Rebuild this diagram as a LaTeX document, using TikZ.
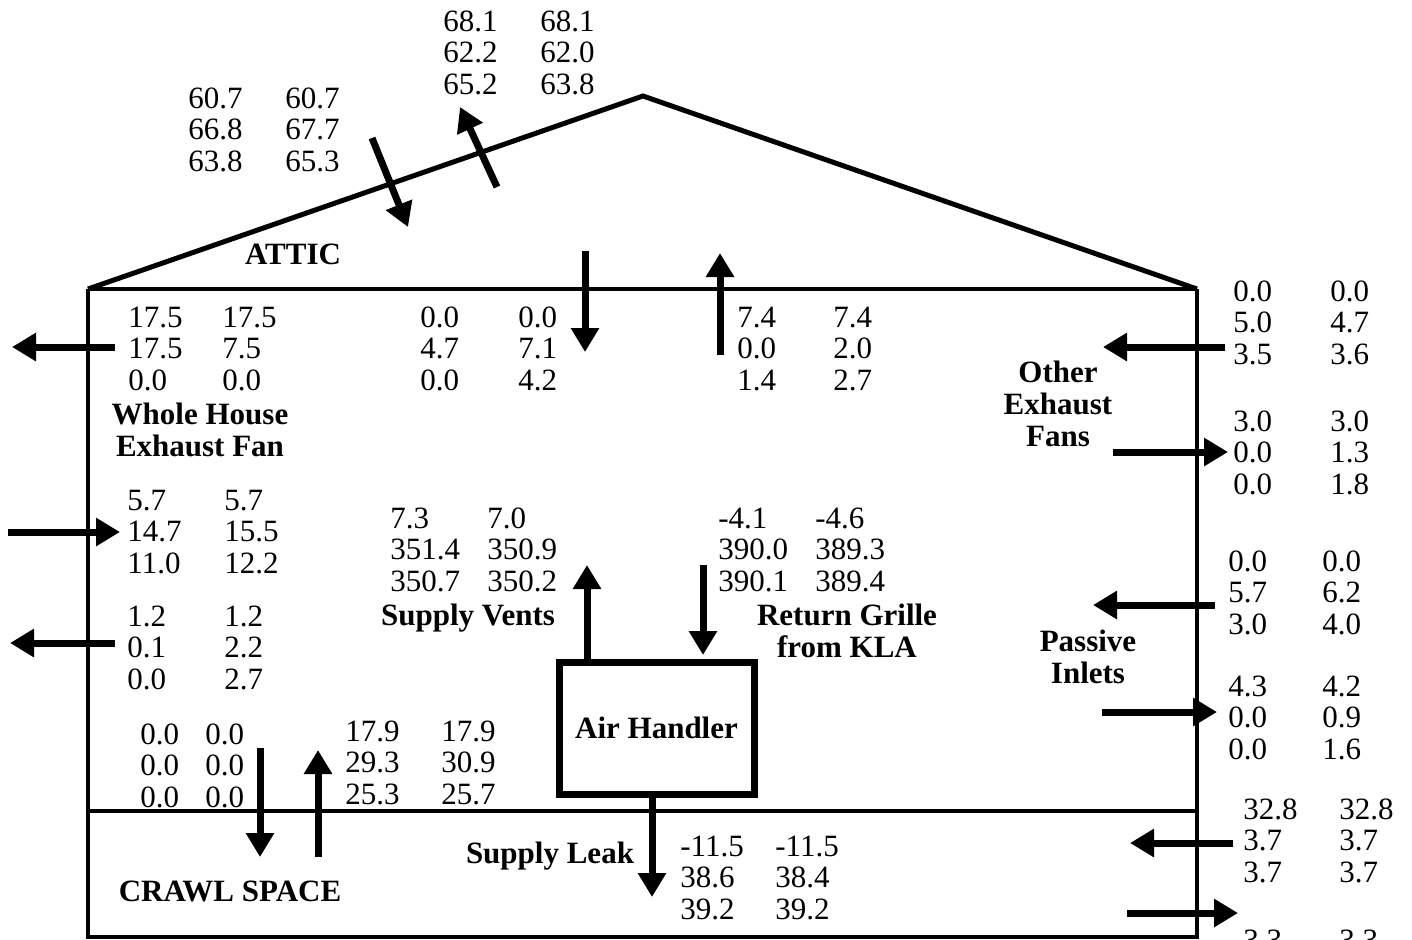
\documentclass[tikz,border=0pt]{standalone}
\usepackage{fontspec}
\setmainfont{Liberation Serif}
\usetikzlibrary{arrows.meta}
\newcommand\ncol[4]{\foreach \v [count=\i] in {#4}{\node[num] (#1\i) at (#2,{#3+(\i-1)*31.5}) {\v};}}
\begin{document}
\begin{tikzpicture}[x=0.5pt,y=-0.5pt,
  num/.style={inner sep=0pt,anchor=base west,font=\fontsize{15.5}{15.75}\selectfont},
  lbl/.style={inner sep=0pt,anchor=base,font=\fontsize{15.5}{15.75}\selectfont\bfseries},
  wall/.style={line width=2pt},
  roof/.style={line width=2.5pt,line join=miter},
  floorline/.style={line width=1.6pt},
  flow/.style={line width=3.5pt,-{Triangle[length=12pt,width=13.5pt]}},
  boxst/.style={draw,line width=3.5pt,minimum width=97.5pt,minimum height=66pt,inner sep=0pt,font=\fontsize{15.5}{15.75}\selectfont\bfseries}]
\clip (0,0) rectangle (1412,939);
\fill[white] (0,0) rectangle (1412,939);
% house outline
\coordinate (LT) at (88,289);
\coordinate (RT) at (1197,289);
\coordinate (AP) at (643,96);
\coordinate (LB) at (88,937);
\coordinate (RB) at (1197,937);
\coordinate (CL) at (88,811);
\coordinate (CR) at (1197,811);
\draw[roof] (LT) -- (AP) -- (RT);
\draw[floorline] (LT) -- (RT);
\draw[floorline] (CL) -- (CR);
\draw[wall] (LT) -- (LB) -- (RB) -- (RT);
% air handler
\node[boxst] (ah) at (656.5,728) {Air Handler};
% arrow end points
\coordinate (a1t) at (115,347);  \coordinate (a1h) at (12,347);
\coordinate (a2t) at (8,532);    \coordinate (a2h) at (120,532);
\coordinate (a3t) at (115,643);  \coordinate (a3h) at (10,643);
\coordinate (a4t) at (585,251);  \coordinate (a4h) at (585,352);
\coordinate (a5t) at (720,355);  \coordinate (a5h) at (720,253);
\coordinate (a6t) at (372,138);  \coordinate (a6h) at (408,227);
\coordinate (a7t) at (497,187);  \coordinate (a7h) at (460,107);
\coordinate (a8t) at (1225,347); \coordinate (a8h) at (1103,347);
\coordinate (a9t) at (1113,452); \coordinate (a9h) at (1228,452);
\coordinate (a10t) at (1215,605); \coordinate (a10h) at (1093,605);
\coordinate (a11t) at (1102,712); \coordinate (a11h) at (1217,712);
\coordinate (a12t) at (1233,843); \coordinate (a12h) at (1130,843);
\coordinate (a13t) at (1127,913); \coordinate (a13h) at (1238,913);
\coordinate (a14t) at (260,748); \coordinate (a14h) at (260,857);
\coordinate (a15t) at (318,857); \coordinate (a15h) at (318,750);
\coordinate (svx) at (587,565);
\coordinate (rgx) at (703,565);
\coordinate (rgh) at (703,655);
\coordinate (slx) at (652,897);
\foreach \k in {1,...,15}{\draw[flow] (a\k t) -- (a\k h);}
\draw[flow] (ah.north -| svx) -- (svx);
\draw[flow] (rgx) -- (rgh);
\draw[flow] (ah.south -| slx) -- (slx);
% numbers
\ncol{ra}{188}{108}{60.7,66.8,63.8}
\ncol{rb}{285}{108}{60.7,67.7,65.3}
\ncol{ta}{443}{31}{68.1,62.2,65.2}
\ncol{tb}{540}{31}{68.1,62.0,63.8}
\ncol{wa}{128}{327}{17.5,17.5,0.0}
\ncol{wb}{222}{327}{17.5,7.5,0.0}
\ncol{ca}{420}{327}{0.0,4.7,0.0}
\ncol{cb}{518}{327}{0.0,7.1,4.2}
\ncol{da}{737}{327}{7.4,0.0,1.4}
\ncol{db}{833}{327}{7.4,2.0,2.7}
\ncol{oa}{1233}{301}{0.0,5.0,3.5}
\ncol{ob}{1330}{301}{0.0,4.7,3.6}
\ncol{pa}{1233}{431}{3.0,0.0,0.0}
\ncol{pb}{1330}{431}{3.0,1.3,1.8}
\ncol{qa}{1228}{571}{0.0,5.7,3.0}
\ncol{qb}{1322}{571}{0.0,6.2,4.0}
\ncol{sa}{1228}{696}{4.3,0.0,0.0}
\ncol{sb}{1322}{696}{4.2,0.9,1.6}
\ncol{la}{127}{510}{5.7,14.7,11.0}
\ncol{lb}{224}{510}{5.7,15.5,12.2}
\ncol{ma}{127}{626}{1.2,0.1,0.0}
\ncol{mb}{224}{626}{1.2,2.2,2.7}
\ncol{va}{390}{528}{7.3,351.4,350.7}
\ncol{vb}{487}{528}{7.0,350.9,350.2}
\ncol{ga}{718}{528}{-4.1,390.0,390.1}
\ncol{gb}{815}{528}{-4.6,389.3,389.4}
\ncol{za}{140}{744}{0.0,0.0,0.0}
\ncol{zb}{205}{744}{0.0,0.0,0.0}
\ncol{fa}{345}{741}{17.9,29.3,25.3}
\ncol{fb}{441}{741}{17.9,30.9,25.7}
\ncol{ka}{680}{856}{-11.5,38.6,39.2}
\ncol{kb}{775}{856}{-11.5,38.4,39.2}
\ncol{xa}{1243}{819}{32.8,3.7,3.7}
\ncol{xb}{1339}{819}{32.8,3.7,3.7}
\node[num] (xc) at (1243,950) {3.3};
\node[num] (xd) at (1339,950) {3.3};
% labels
\node[lbl] (attic) at (293,264) {ATTIC};
\node[lbl] (wh1) at (200,424) {Whole House};
\node[lbl] (wh2) at (200,456) {Exhaust Fan};
\node[lbl] (oe1) at (1058,382) {Other};
\node[lbl] (oe2) at (1058,414) {Exhaust};
\node[lbl] (oe3) at (1058,446) {Fans};
\node[lbl] (pi1) at (1088,651) {Passive};
\node[lbl] (pi2) at (1088,683) {Inlets};
\node[lbl] (sv) at (468,625) {Supply Vents};
\node[lbl] (rg1) at (847,625) {Return Grille};
\node[lbl] (rg2) at (847,657) {from KLA};
\node[lbl] (sl) at (550,863) {Supply Leak};
\node[lbl] (crawl) at (230,901) {CRAWL SPACE};
\end{tikzpicture}
\end{document}
